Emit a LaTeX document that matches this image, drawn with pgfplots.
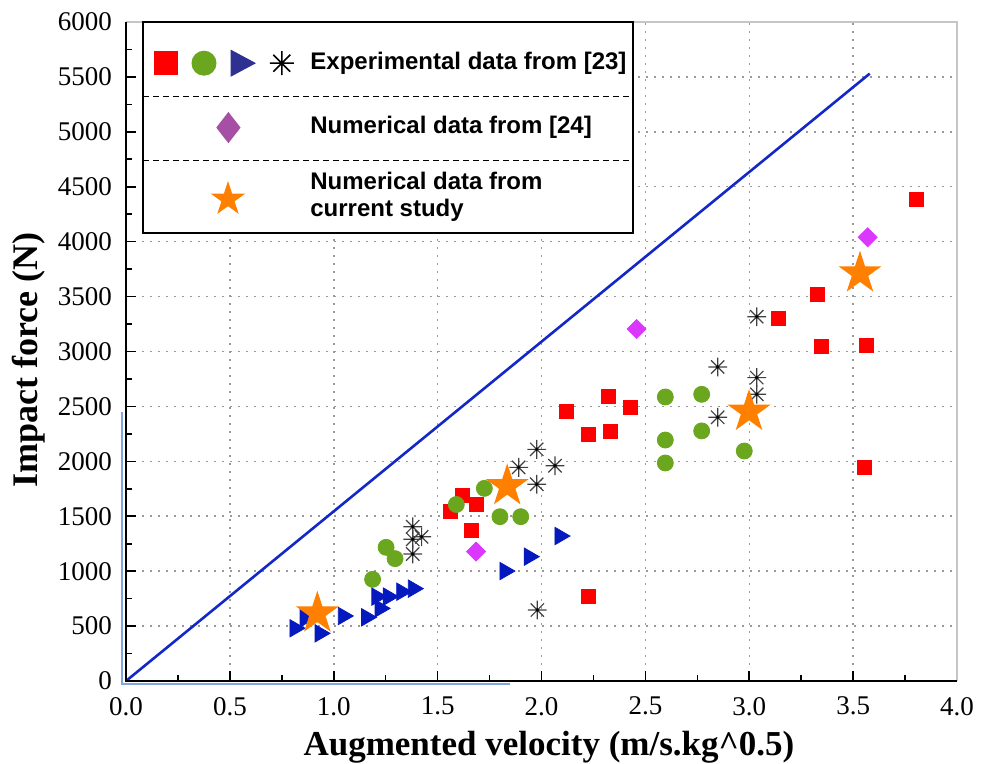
\documentclass[border=0pt]{standalone}
\usepackage{pgfplots}
\pgfplotsset{compat=1.18}
\usepackage{fontspec}
\setmainfont{Liberation Serif}
\newfontfamily\legfont{Liberation Sans}
\usetikzlibrary{shapes.geometric}

\definecolor{cred}{RGB}{255,0,0}
\definecolor{cgreen}{RGB}{106,166,30}
\definecolor{cblue}{RGB}{5,25,190}
\definecolor{cnavy}{RGB}{46,49,146}
\definecolor{cmag}{RGB}{220,55,255}
\definecolor{cmagleg}{RGB}{165,80,165}
\definecolor{corange}{RGB}{255,128,0}
\definecolor{cline}{RGB}{20,40,200}
\definecolor{cartifact}{RGB}{130,165,225}

\pgfdeclareplotmark{fstar}{%
 \pgfpathmoveto{\pgfpointpolar{90}{\pgfplotmarksize}}%
 \pgfpathlineto{\pgfpointpolar{126}{0.382\pgfplotmarksize}}%
 \pgfpathlineto{\pgfpointpolar{162}{\pgfplotmarksize}}%
 \pgfpathlineto{\pgfpointpolar{198}{0.382\pgfplotmarksize}}%
 \pgfpathlineto{\pgfpointpolar{234}{\pgfplotmarksize}}%
 \pgfpathlineto{\pgfpointpolar{270}{0.382\pgfplotmarksize}}%
 \pgfpathlineto{\pgfpointpolar{306}{\pgfplotmarksize}}%
 \pgfpathlineto{\pgfpointpolar{342}{0.382\pgfplotmarksize}}%
 \pgfpathlineto{\pgfpointpolar{18}{\pgfplotmarksize}}%
 \pgfpathlineto{\pgfpointpolar{54}{0.382\pgfplotmarksize}}%
 \pgfpathclose\pgfusepathqfill}

\pgfdeclareplotmark{ast8}{%
 \pgfpathmoveto{\pgfqpoint{0pt}{\pgfplotmarksize}}\pgfpathlineto{\pgfqpoint{0pt}{-\pgfplotmarksize}}%
 \pgfpathmoveto{\pgfqpoint{\pgfplotmarksize}{0pt}}\pgfpathlineto{\pgfqpoint{-\pgfplotmarksize}{0pt}}%
 \pgfpathmoveto{\pgfpointpolar{45}{\pgfplotmarksize}}\pgfpathlineto{\pgfpointpolar{225}{\pgfplotmarksize}}%
 \pgfpathmoveto{\pgfpointpolar{135}{\pgfplotmarksize}}\pgfpathlineto{\pgfpointpolar{315}{\pgfplotmarksize}}%
 \pgfusepathqstroke
 \pgfpathcircle{\pgfpointorigin}{0.9pt}\pgfusepathqfill}

\begin{document}
\begin{tikzpicture}
\path[use as bounding box] (-63pt,-41.5pt) rectangle (431.5pt,340.5pt);
\begin{axis}[
  scale only axis, width=415.5pt, height=329.5pt,
  xmin=0, xmax=4, ymin=0, ymax=6000,
  xtick={0,0.5,...,4}, ytick={0,500,...,6000},
  minor x tick num=1, minor y tick num=1,
  tick pos=left, tick align=inside,
  major tick length=5pt, minor tick length=3pt,
  every tick/.style={black, line width=0.8pt},
  grid=major,
  major grid style={gray!80, line width=0.75pt, dash pattern=on 1pt off 3pt},
  axis line style={draw=none},
  /pgf/number format/assume math mode=true,
  x tick label style={/pgf/number format/fixed, /pgf/number format/fixed zerofill, /pgf/number format/precision=1, yshift=-4.5pt},
  y tick label style={/pgf/number format/1000 sep={}, xshift=-3.5pt},
  tick label style={font=\fontsize{13.5}{14}\selectfont},
  xlabel={Augmented velocity (m/s.kg\^{}0.5)},
  ylabel={Impact force (N)},
  xlabel style={font=\bfseries\fontsize{17.5}{18}\selectfont, anchor=base, at={(axis description cs:0.509,-0.1123)}},
  ylabel style={font=\bfseries\fontsize{18}{18}\selectfont, anchor=center, at={(axis description cs:-0.1167,0.487)}},
  clip=false,
]
\addplot[cline, line width=1.3pt] coordinates {(0,0) (3.58,5530)};

\addplot[only marks, mark=square*, mark size=3.5pt, mark options={fill=cred, draw=cred}] coordinates {
(1.563,1542) (1.62,1693) (1.688,1611) (1.664,1372) (2.118,2455) (2.227,2249)
(2.32,2595) (2.33,2276) (2.43,2488) (2.225,768) (3.14,3302) (3.33,3524)
(3.345,3044) (3.565,3056) (3.554,1945) (3.806,4384)};

\addplot[only marks, mark=*, mark size=4pt, mark options={fill=cgreen, draw=cgreen}] coordinates {
(1.187,926) (1.252,1217) (1.295,1114) (1.59,1607) (1.725,1754) (1.80,1496) (1.90,1496)
(2.596,2586) (2.596,2194) (2.596,1985) (2.771,2610) (2.771,2277) (2.976,2094)};

\addplot[only marks, mark=triangle*, mark size=5pt, mark options={fill=cblue, draw=cblue, rotate=-90}] coordinates {
(0.813,480) (0.862,571) (0.934,434) (1.046,592) (1.158,580) (1.223,661)
(1.207,768) (1.263,768) (1.327,813) (1.383,841) (1.824,1001) (1.941,1132) (2.089,1320)};

\addplot[only marks, mark=ast8, mark size=4.7pt, mark options={draw=black!75, fill=black, line width=0.6pt}] coordinates {
(1.38,1405) (1.38,1290) (1.423,1313) (1.38,1156) (1.89,1945) (1.977,2109) (2.065,1960)
(1.977,1791) (1.98,646) (2.848,2859) (2.848,2401) (3.036,3317) (3.036,2762) (3.036,2610)};

\addplot[only marks, mark=square*, mark size=3.36pt, mark options={fill=cmag, draw=cmag, rotate=45}] coordinates {
(1.685,1178) (2.458,3205) (3.57,4040)};

\addplot[only marks, mark=fstar, mark size=11.3pt, mark options={fill=corange, draw=corange}] coordinates {
(0.921,616) (1.835,1775) (2.999,2452) (3.533,3712)};

\draw[gray!45, line width=0.8pt] (rel axis cs:0,1) -- (rel axis cs:1,1) -- (rel axis cs:1,0);
\draw[black, line width=1.2pt] (rel axis cs:0,1) -- (rel axis cs:0,0) -- (rel axis cs:1,0);
\end{axis}

% selection artefact lines
\draw[cartifact, line width=0.7pt] (-2pt,134.5pt) -- (-2pt,-1.5pt) -- (192pt,-1.5pt);

% legend
\draw[fill=white, line width=1pt] (8.5pt,224pt) rectangle (253.5pt,329.5pt);
\draw[dash pattern=on 3pt off 2pt, line width=0.75pt] (8.5pt,292.2pt) -- (253.5pt,292.2pt);
\draw[dash pattern=on 3pt off 2pt, line width=0.75pt] (8.5pt,260.2pt) -- (253.5pt,260.2pt);
\node[fill=cred, minimum size=12pt, inner sep=0] at (19.9pt,308.9pt) {};
\node[circle, fill=cgreen, minimum size=12.5pt, inner sep=0] at (39pt,308.9pt) {};
\fill[cnavy] (52.3pt,315.7pt) -- (65pt,308.9pt) -- (52.3pt,302.1pt) -- cycle;
\draw[black, line width=0.8pt] (77.9pt,302.9pt) -- (77.9pt,314.9pt)
  (71.9pt,308.9pt) -- (83.9pt,308.9pt)
  (73.66pt,304.66pt) -- (82.14pt,313.14pt)
  (73.66pt,313.14pt) -- (82.14pt,304.66pt);
\node[diamond, fill=cmagleg, minimum width=12.3pt, minimum height=15.8pt, inner sep=0] at (51.2pt,276.7pt) {};
\node[star, star points=5, star point ratio=2.618, fill=corange, minimum size=18.2pt, inner sep=0] at (51pt,240.9pt) {};
\begin{scope}[every node/.style={anchor=west, inner sep=0pt, font=\legfont\bfseries\fontsize{12}{13.5}\selectfont}]
\node at (92pt,308.9pt) {Experimental data from [23]};
\node at (92pt,276.7pt) {Numerical data from [24]};
\node[align=left] at (92pt,242pt) {Numerical data from\\current study};
\end{scope}
\end{tikzpicture}
\end{document}
